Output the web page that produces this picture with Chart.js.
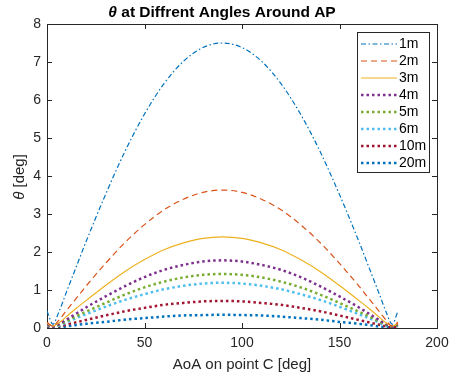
<!DOCTYPE html>
<html>
<head>
<meta charset="utf-8">
<script src="https://cdn.jsdelivr.net/npm/chart.js@4"></script>
<style>
  html, body { margin: 0; padding: 0; background: #fff; }
</style>
</head>
<body>
<canvas id="myChart" width="459" height="378"></canvas>
<script>
var aoa = [0, 3, 6, 10, 15, 20, 30, 40, 50, 60, 70, 80, 90, 100, 110, 120, 130, 140, 150, 160, 165, 170, 174, 177, 180];

var theta1m  = [0.45, 0.10, 0.41, 0.95, 1.61, 2.27, 3.51, 4.65, 5.63, 6.43, 7.02, 7.38, 7.50, 7.38, 7.02, 6.43, 5.63, 4.65, 3.51, 2.27, 1.61, 0.95, 0.41, 0.10, 0.45];
var theta2m  = [0.15, 0.05, 0.20, 0.46, 0.78, 1.10, 1.70, 2.25, 2.72, 3.11, 3.39, 3.57, 3.63, 3.57, 3.39, 3.11, 2.72, 2.25, 1.70, 1.10, 0.78, 0.46, 0.20, 0.05, 0.15];
var theta3m  = [0.12, 0.05, 0.13, 0.30, 0.52, 0.72, 1.12, 1.49, 1.80, 2.06, 2.24, 2.36, 2.40, 2.36, 2.24, 2.06, 1.80, 1.49, 1.12, 0.72, 0.52, 0.30, 0.13, 0.05, 0.12];
var theta4m  = [0.10, 0.04, 0.10, 0.22, 0.38, 0.54, 0.83, 1.10, 1.34, 1.53, 1.66, 1.75, 1.78, 1.75, 1.66, 1.53, 1.34, 1.10, 0.83, 0.54, 0.38, 0.22, 0.10, 0.04, 0.10];
var theta5m  = [0.08, 0.03, 0.08, 0.18, 0.31, 0.43, 0.66, 0.88, 1.07, 1.22, 1.33, 1.40, 1.42, 1.40, 1.33, 1.22, 1.07, 0.88, 0.66, 0.43, 0.31, 0.18, 0.08, 0.03, 0.08];
var theta6m  = [0.07, 0.03, 0.06, 0.15, 0.26, 0.36, 0.56, 0.74, 0.89, 1.02, 1.11, 1.17, 1.19, 1.17, 1.11, 1.02, 0.89, 0.74, 0.56, 0.36, 0.26, 0.15, 0.06, 0.03, 0.07];
var theta10m = [0.05, 0.02, 0.04, 0.09, 0.15, 0.21, 0.33, 0.44, 0.53, 0.61, 0.66, 0.70, 0.71, 0.70, 0.66, 0.61, 0.53, 0.44, 0.33, 0.21, 0.15, 0.09, 0.04, 0.02, 0.05];
var theta20m = [0.03, 0.01, 0.02, 0.04, 0.08, 0.11, 0.16, 0.22, 0.26, 0.30, 0.33, 0.34, 0.35, 0.34, 0.33, 0.30, 0.26, 0.22, 0.16, 0.11, 0.08, 0.04, 0.02, 0.01, 0.03];

var seriesNames = ['1m', '2m', '3m', '4m', '5m', '6m', '10m', '20m'];
var xTicks = [0, 50, 100, 150, 200];
var yTicks = [0, 1, 2, 3, 4, 5, 6, 7, 8];

var allTheta = [theta1m, theta2m, theta3m, theta4m, theta5m, theta6m, theta10m, theta20m];
var colors = ['#0072BD', '#D95319', '#EDB120', '#7E2F8E', '#77AC30', '#4DBEEE', '#A2142F', '#0072BD'];
var dashes = [[5, 2.5, 1.5, 2.5], [6, 4], [], [2.5, 3], [2.5, 3], [2.5, 3], [2.5, 3], [2.5, 3]];
var widths = [1.2, 1.2, 1.2, 2.5, 2.5, 2.5, 2.5, 2.5];

var FONT = '"Liberation Sans", Arial, Helvetica, sans-serif';
var INK = '#262626';

var datasets = allTheta.map(function (vals, i) {
  return {
    label: seriesNames[i],
    data: aoa.map(function (x, j) { return { x: x, y: vals[j] }; }),
    borderColor: colors[i],
    borderWidth: widths[i],
    borderDash: dashes[i],
    borderCapStyle: 'butt',
    pointRadius: 0,
    fill: false,
    cubicInterpolationMode: 'monotone'
  };
});

// axes box, inward ticks, titles and legend, MATLAB style
var matlabLook = {
  id: 'matlabLook',
  beforeDatasetsDraw: function (chart) {
    var ctx = chart.ctx, a = chart.chartArea;
    var xs = chart.scales.x, ys = chart.scales.y;
    ctx.save();
    ctx.strokeStyle = INK;
    ctx.lineWidth = 1;
    ctx.strokeRect(Math.round(a.left) + 0.5, Math.round(a.top) + 0.5,
      Math.round(a.right - a.left), Math.round(a.bottom - a.top));
    ctx.beginPath();
    xTicks.forEach(function (v) {
      var px = Math.round(xs.getPixelForValue(v)) + 0.5;
      ctx.moveTo(px, a.bottom); ctx.lineTo(px, a.bottom - 5);
      ctx.moveTo(px, a.top); ctx.lineTo(px, a.top + 5);
    });
    yTicks.forEach(function (v) {
      var py = Math.round(ys.getPixelForValue(v)) + 0.5;
      ctx.moveTo(a.left, py); ctx.lineTo(a.left + 5, py);
      ctx.moveTo(a.right, py); ctx.lineTo(a.right - 5, py);
    });
    ctx.stroke();
    ctx.restore();
  },
  afterDraw: function (chart) {
    var ctx = chart.ctx, a = chart.chartArea;
    ctx.save();
    ctx.fillStyle = '#000';
    ctx.textBaseline = 'middle';

    // title with italic theta
    var t1 = '\u03B8', t2 = ' at Diffrent Angles Around AP';
    ctx.font = 'italic bold 15.5px ' + FONT;
    var w1 = ctx.measureText(t1).width;
    ctx.font = 'bold 15.5px ' + FONT;
    var w2 = ctx.measureText(t2).width;
    var tx = 222 - (w1 + w2) / 2;
    ctx.textAlign = 'left';
    ctx.font = 'italic bold 15.5px ' + FONT;
    ctx.fillText(t1, tx, 13);
    ctx.font = 'bold 15.5px ' + FONT;
    ctx.fillText(t2, tx + w1, 13);

    // x axis title
    ctx.fillStyle = INK;
    ctx.font = '15px ' + FONT;
    ctx.textAlign = 'center';
    ctx.fillText('AoA on point C [deg]', (a.left + a.right) / 2, 365);

    // y axis title
    ctx.save();
    ctx.translate(20, 177);
    ctx.rotate(-Math.PI / 2);
    var y1 = '\u03B8', y2 = ' [deg]';
    ctx.font = 'italic 15px ' + FONT;
    var yw1 = ctx.measureText(y1).width;
    ctx.font = '15px ' + FONT;
    var yw2 = ctx.measureText(y2).width;
    ctx.textAlign = 'left';
    ctx.font = 'italic 15px ' + FONT;
    ctx.fillText(y1, -(yw1 + yw2) / 2, 0);
    ctx.font = '15px ' + FONT;
    ctx.fillText(y2, -(yw1 + yw2) / 2 + yw1, 0);
    ctx.restore();

    // legend
    var lx = 357.5, ly = 32.5, lw = 72, lh = 140;
    ctx.fillStyle = '#fff';
    ctx.fillRect(lx, ly, lw, lh);
    ctx.strokeStyle = INK;
    ctx.lineWidth = 1;
    ctx.setLineDash([]);
    ctx.strokeRect(lx, ly, lw, lh);
    chart.data.datasets.forEach(function (ds, i) {
      var cy = 44 + i * 17;
      ctx.beginPath();
      ctx.strokeStyle = ds.borderColor;
      ctx.lineWidth = ds.borderWidth;
      ctx.setLineDash(ds.borderDash);
      ctx.lineCap = 'butt';
      ctx.moveTo(361, cy);
      ctx.lineTo(397, cy);
      ctx.stroke();
      ctx.setLineDash([]);
      ctx.fillStyle = '#000';
      ctx.font = '14px ' + FONT;
      ctx.textAlign = 'left';
      ctx.fillText(ds.label, 399, cy);
    });
    ctx.restore();
  }
};

var ctx = document.getElementById('myChart').getContext('2d');
var myChart = new Chart(ctx, {
  type: 'line',
  data: { datasets: datasets },
  options: {
    responsive: false,
    animation: false,
    layout: { padding: { top: 24, left: 0, right: 22, bottom: 0 } },
    scales: {
      x: {
        type: 'linear',
        min: 0, max: 200,
        grid: { display: false, drawTicks: false },
        border: { display: false },
        afterFit: function (s) { s.height = 50; },
        afterBuildTicks: function (s) { s.ticks = xTicks.map(function (v) { return { value: v }; }); },
        ticks: { padding: 7, color: INK, font: { family: FONT, size: 14 } }
      },
      y: {
        min: 0, max: 8,
        grid: { display: false, drawTicks: false },
        border: { display: false },
        afterFit: function (s) { s.width = 47; },
        afterBuildTicks: function (s) { s.ticks = yTicks.map(function (v) { return { value: v }; }); },
        ticks: { padding: 6, color: INK, font: { family: FONT, size: 14 } }
      }
    },
    plugins: {
      legend: { display: false },
      tooltip: { enabled: false }
    }
  },
  plugins: [matlabLook]
});
</script>
</body>
</html>
